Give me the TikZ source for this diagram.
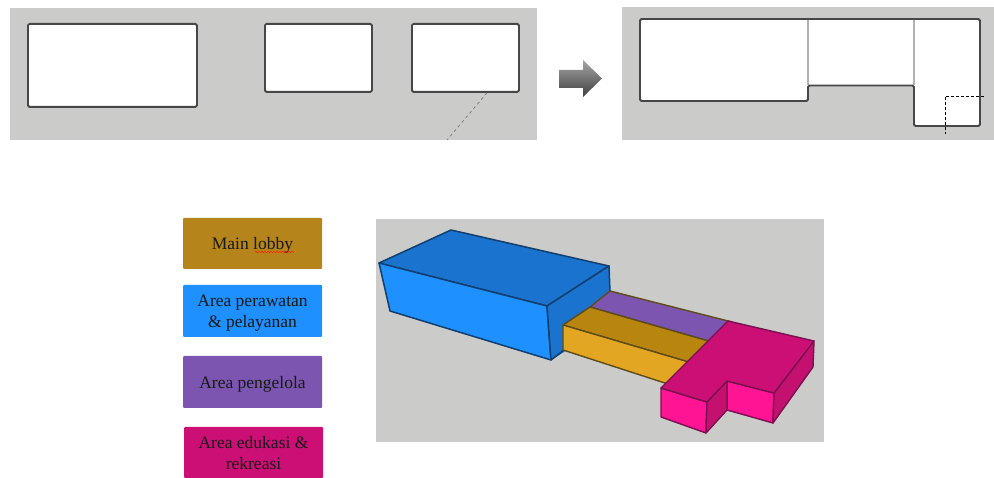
\documentclass[tikz,border=0pt]{standalone}
\usepackage{fontspec}
\setmainfont{Liberation Serif}
\usepackage{xcolor}
\usepackage{tikz}
\usetikzlibrary{positioning, shapes, arrows, calc, decorations.pathmorphing}

\definecolor{panelgray}{HTML}{CBCBCA}
\definecolor{lobbygold}{HTML}{B5851C}
\definecolor{carebluefront}{HTML}{1E90FF}
\definecolor{careblueshade}{HTML}{1A73CF}
\definecolor{careedge}{HTML}{123F6E}
\definecolor{staffpurple}{HTML}{7B55B0}
\definecolor{edupink}{HTML}{CC0F74}
\definecolor{edupinkfront}{HTML}{FF1493}
\definecolor{edupinkside}{HTML}{C4106E}
\definecolor{pinkedge}{HTML}{7A1050}
\definecolor{yellowtop}{HTML}{B8860F}
\definecolor{yellowfront}{HTML}{E3A622}
\definecolor{goldedge}{HTML}{5F4A1A}

\tikzset{
  panel/.style={fill=panelgray, draw=none},
  planbox/.style={draw=black!72, fill=white, line width=1.8pt, rounded corners=1.5pt, inner sep=0pt, anchor=north west},
  legendbox/.style={rectangle, rounded corners=1pt, minimum width=139pt, inner sep=0pt, align=center, text=black!90, text depth=0pt, font=\fontsize{17.5}{21}\selectfont},
  bluefaces/.style={draw=careedge, line width=1.5pt, line join=round},
  goldfaces/.style={draw=goldedge, line width=1.4pt, line join=round},
  pinkfaces/.style={draw=pinkedge, line width=1.4pt, line join=round}
}

\begin{document}
\begin{tikzpicture}[x=1pt, y=-1pt]
  \useasboundingbox (0,0) rectangle (994,478);

  \fill[panel] (10,8) rectangle (537,140);
  \fill[panel] (622,7) rectangle (994,140);
  \fill[panel] (376,219) rectangle (824,442);

  \node[planbox, minimum width=169pt, minimum height=83pt] (plana) at (27,23) {};
  \node[planbox, minimum width=107pt, minimum height=68pt] (planb) at (264,23) {};
  \node[planbox, minimum width=107pt, minimum height=68pt] (planc) at (411,23) {};
  \coordinate (guideend) at (447,140);
  \draw[gray, dashed, line width=0.8pt] (planc.south west) ++(76,0) -- (guideend);

  \path[top color=black!35, bottom color=black!75, draw=none] (559,70) -- (583,70) -- (583,60) -- (602,78.5) -- (583,97) -- (583,88) -- (559,88) -- cycle;

  \fill[white] (640,19) -- (980,19) -- (980,126) -- (914,126) -- (914,85.5) -- (808,85.5) -- (808,101) -- (640,101) -- cycle;
  \draw[black!30, line width=1.3pt] (808,19) -- (808,85.5);
  \draw[black!30, line width=1.3pt] (914,19) -- (914,85.5);
  \draw[black!72, line width=1.8pt, rounded corners=1.5pt] (640,19) -- (980,19) -- (980,126) -- (914,126) -- (914,85.5) -- (808,85.5) -- (808,101) -- (640,101) -- cycle;
  \draw[black, densely dashed, line width=0.8pt] (984,96) -- (945,96) -- (945,134);

  \node[legendbox, fill=lobbygold, minimum height=51pt] (lobby) at (252.5,243.5) {Main lobby};
  \node[legendbox, fill=carebluefront, minimum height=52pt] (care) at (252.5,311) {Area perawatan\\\& pelayanan};
  \node[legendbox, fill=staffpurple, minimum height=52pt] (staff) at (252.5,382) {Area pengelola};
  \node[legendbox, fill=edupink, minimum height=51pt] (edu) at (253.5,452.5) {Area edukasi \&\\rekreasi};
  \draw[red!75!orange, line width=0.6pt, decorate, decoration={snake, amplitude=0.7pt, segment length=3pt}] (255,252) -- (294,252);

  \draw[bluefaces, fill=careblueshade] (379,263) -- (451,230) -- (609,266) -- (547,306) -- cycle;
  \draw[bluefaces, fill=carebluefront] (379,263) -- (547,306) -- (551,360) -- (390,311) -- cycle;
  \fill[careblueshade] (547,306) -- (609,266) -- (610,292) -- (610,320) -- (564,352) -- (551,360) -- cycle;
  \draw[bluefaces] (547,306) -- (609,266) -- (610,292);
  \draw[bluefaces] (547,306) -- (551,360) -- (564,350);

  \draw[goldfaces, fill=staffpurple] (610,291) -- (732,322) -- (712,342) -- (590,307) -- cycle;
  \draw[goldfaces, fill=yellowtop] (590,307) -- (712,342) -- (692,363) -- (563,325) -- cycle;
  \draw[goldfaces, fill=yellowfront] (563,325) -- (692,363) -- (671,385) -- (563,350) -- cycle;

  \draw[pinkfaces, fill=edupinkfront] (661,388) -- (707,402) -- (706,433) -- (661,417) -- cycle;
  \draw[pinkfaces, fill=edupinkfront] (727,381) -- (774,393) -- (773,423) -- (727,410) -- cycle;
  \draw[pinkfaces, fill=edupinkside] (707,402) -- (727,381) -- (727,410) -- (706,433) -- cycle;
  \draw[pinkfaces, fill=edupinkside] (774,393) -- (814,341) -- (813,367) -- (773,423) -- cycle;
  \draw[pinkfaces, fill=edupink] (728,321) -- (814,341) -- (774,393) -- (727,381) -- (707,402) -- (661,388) -- cycle;
\end{tikzpicture}
\end{document}
